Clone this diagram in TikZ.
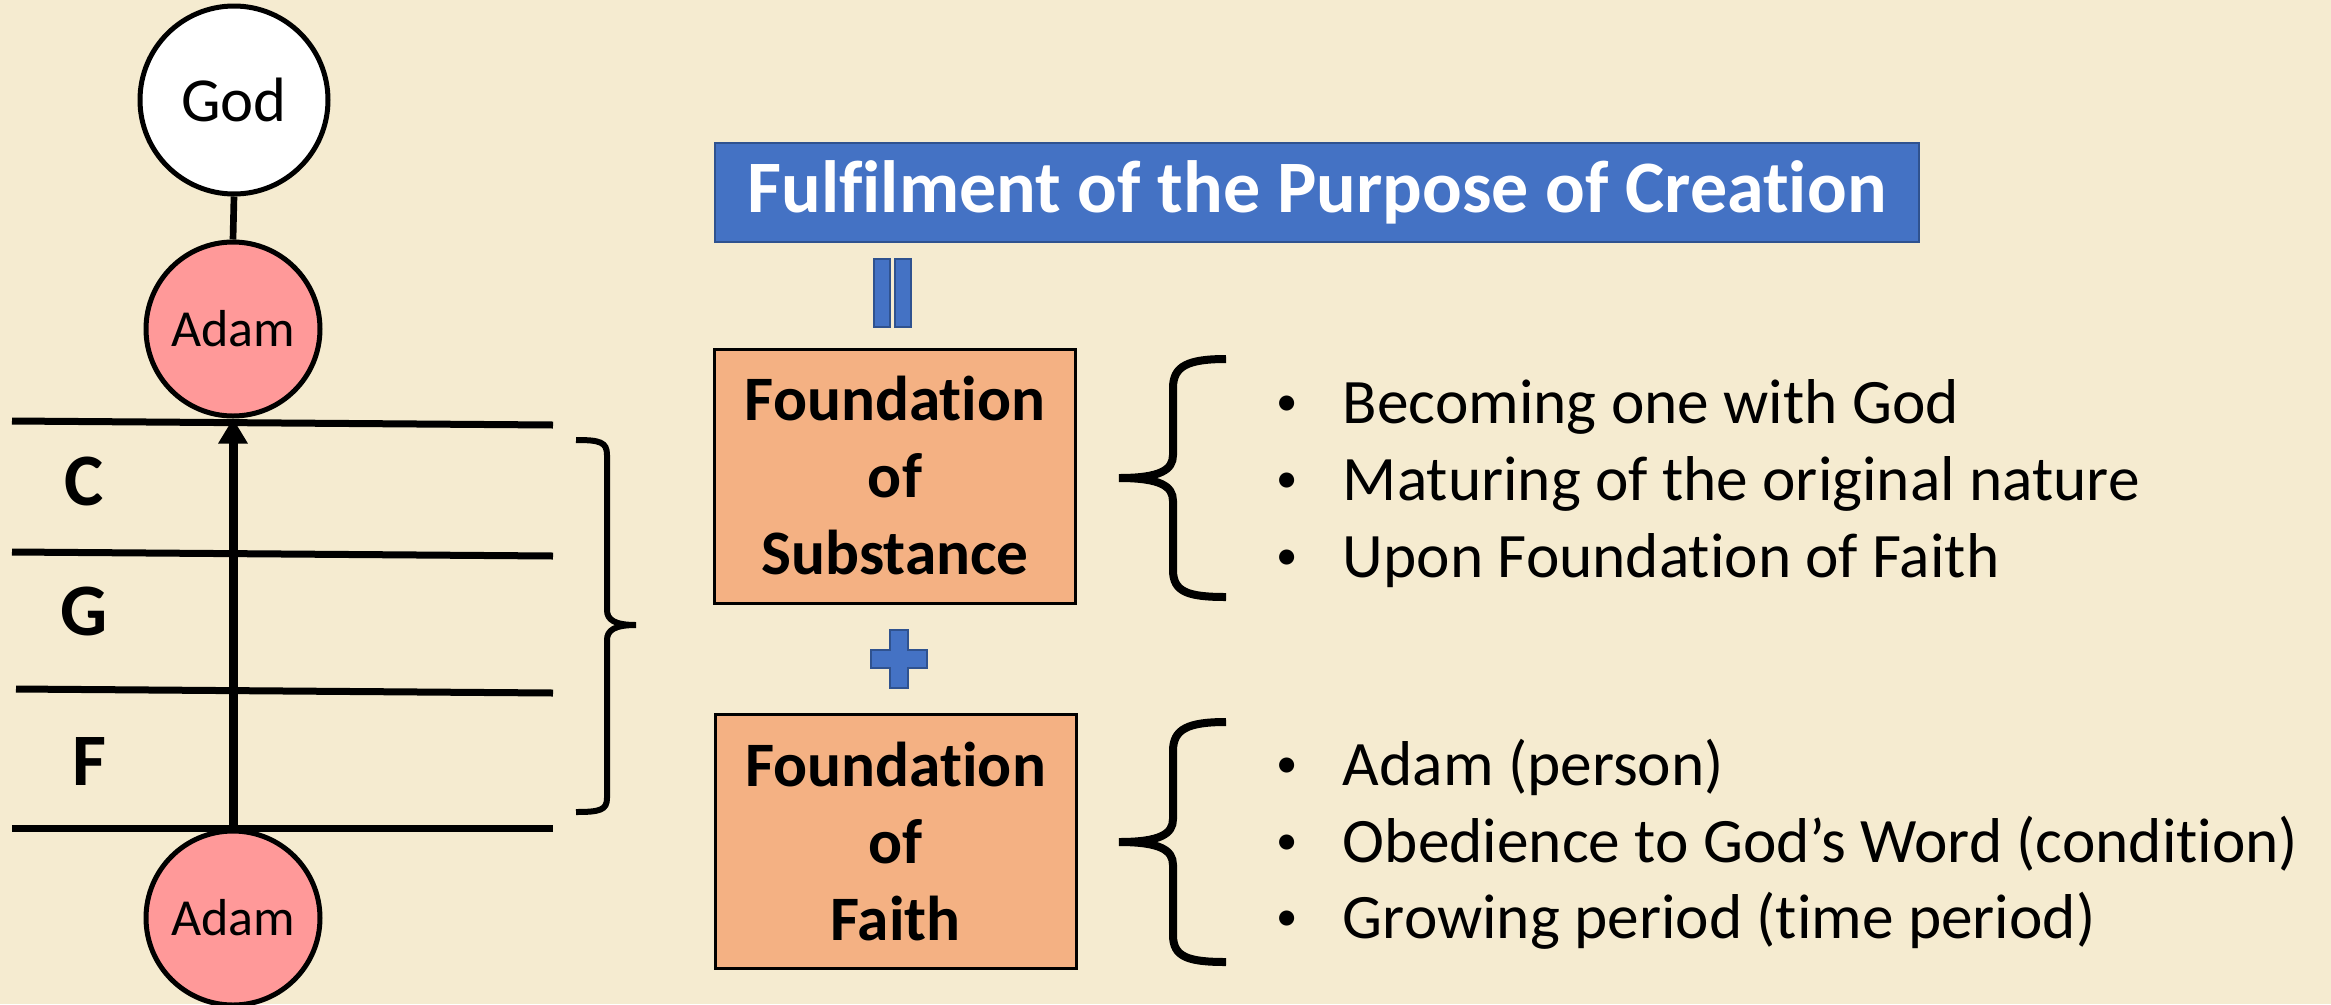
\documentclass[tikz,border=0pt]{standalone}
\usepackage{fontspec}
\setmainfont{Carlito}[Ligatures={NoCommon}]
\usetikzlibrary{arrows.meta}
\definecolor{bgc}{RGB}{245,235,208}
\definecolor{blueF}{RGB}{68,114,196}
\definecolor{blueD}{RGB}{47,82,143}
\definecolor{orangeF}{RGB}{244,177,131}
\definecolor{pinkF}{RGB}{255,153,153}
\newcommand{\mybul}{\makebox[50pt][l]{\raisebox{5.5pt}{\fontsize{32}{32}\selectfont\textbullet}}}
\begin{document}
\begin{tikzpicture}[x=0.75pt,y=-0.75pt,
  person/.style={circle,draw=black,line width=3.75pt,inner sep=0pt,minimum size=130.5pt,font=\fontsize{39}{45}\selectfont},
  level/.style={line width=5.25pt},
  lvlabel/.style={anchor=base,inner sep=0pt,font=\fontsize{55.5}{60}\selectfont\bfseries},
  found/.style={rectangle,draw=black,line width=2.25pt,fill=orangeF,minimum width=270.75pt,minimum height=190.5pt,align=center,inner sep=0pt,font=\fontsize{47.5}{57.75}\selectfont\bfseries},
  item/.style={anchor=base west,inner sep=0pt,font=\fontsize{47.5}{57.75}\selectfont},
  brace/.style={line width=6pt,line cap=butt},
  sym/.style={fill=blueF,draw=blueD,line width=1.5pt}]
\fill[bgc] (0,0) rectangle (2331,1004);
\useasboundingbox (0,0) rectangle (2331,1004);
% left panel
\node[person,fill=white,minimum size=141pt,font=\fontsize{47}{52}\selectfont] (god) at (234,100) {God};
\node[person,fill=pinkF] (adamT) at (233,329) {Adam};
\node[person,fill=pinkF] (adamB) at (233,918) {Adam};
\draw[line width=5pt] (god.south) -- (adamT.north);
\coordinate (l1a) at (12,421); \coordinate (l1b) at (553,425);
\coordinate (l2a) at (12,552); \coordinate (l2b) at (553,556);
\coordinate (l3a) at (16,689); \coordinate (l3b) at (553,693);
\coordinate (l4a) at (12,828); \coordinate (l4b) at (553,828);
\draw[level] (l1a) -- (l1b);
\draw[level] (l2a) -- (l2b);
\draw[level] (l3a) -- (l3b);
\draw[level] (l4a) -- (l4b);
\draw[line width=6.75pt,-{Triangle[length=18.75pt,width=21pt]}] (adamB.north) -- (adamT.south);
\node[lvlabel] (lc) at (84,505) {C};
\node[lvlabel] (lg) at (84,635) {G};
\node[lvlabel] (lf) at (89,785) {F};
\draw[line width=4.5pt] (576,440) .. controls (600,440) and (607,442) .. (607,455) -- (607,610) .. controls (607,620) and (615,625) .. (636,625) .. controls (615,625) and (607,630) .. (607,640) -- (607,798) .. controls (607,810) and (600,812) .. (576,812);
% right panel
\node[rectangle,fill=blueF,draw=blueD,line width=1.5pt,minimum width=903pt,minimum height=74.25pt,inner sep=0pt,text=white,font=\fontsize{55.5}{60}\selectfont\bfseries] (title) at (1317,192.5) {Fulfilment of the Purpose of Creation};
\draw[sym] (874,259) rectangle (890,327);
\draw[sym] (895,259) rectangle (911,327);
\node[found] (subst) at (895,476) {Foundation\\of\\Substance};
\draw[sym] (890,630) -- (908,630) -- (908,650) -- (927,650) -- (927,668) -- (908,668) -- (908,688) -- (890,688) -- (890,668) -- (871,668) -- (871,650) -- (890,650) -- cycle;
\node[found] (faith) at (895.5,841) {Foundation\\of\\Faith};
% braces
\draw[brace] (1226,359) .. controls (1188,359) and (1173,366) .. (1173,388) -- (1173,455) .. controls (1173,470) and (1160,478) .. (1119,478) .. controls (1160,478) and (1173,486) .. (1173,501) -- (1173,570) .. controls (1173,592) and (1188,597) .. (1226,597);
\draw[brace] (1226,722) .. controls (1188,722) and (1173,729) .. (1173,751) -- (1173,819) .. controls (1173,834) and (1160,842) .. (1119,842) .. controls (1160,842) and (1173,850) .. (1173,865) -- (1173,935) .. controls (1173,957) and (1188,962) .. (1226,962);
% bullet items
\node[item] (s1) at (1276,423) {\mybul Becoming one with God};
\node[item] (s2) at (1276,500) {\mybul Maturing of the original nature};
\node[item] (s3) at (1276,577) {\mybul Upon Foundation of Faith};
\node[item] (f1) at (1276,785) {\mybul Adam (person)};
\node[item] (f2) at (1276,862) {\mybul Obedience to God’s Word (condition)};
\node[item] (f3) at (1276,938) {\mybul Growing period (time period)};
\end{tikzpicture}
\end{document}
